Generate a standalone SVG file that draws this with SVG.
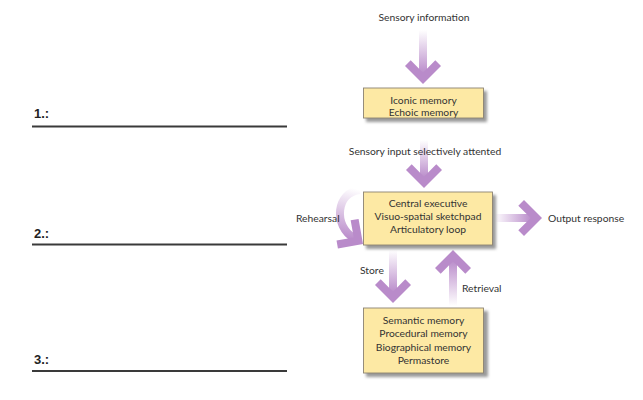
<svg xmlns="http://www.w3.org/2000/svg" width="643" height="400" viewBox="0 0 643 400">
  <defs>
    <style>
      .lbl { font-family: Lato, "Open Sans", "DejaVu Sans", sans-serif; font-size: 10.3px; fill: #333; }
      .box { fill: #fde9a4; stroke: #8c8372; stroke-width: 0.9; }
      .shadow { fill: #9a9a9a; filter: url(#blur); }
      .head { fill: #b98bca; }
      .num { font-family: "Liberation Sans", Arial, sans-serif; font-weight: bold; font-size: 13px; fill: #222; }
      .rule { stroke: #3a3a3a; stroke-width: 2; }
    </style>
    <filter id="blur" x="-10%" y="-20%" width="120%" height="140%">
      <feGaussianBlur stdDeviation="1.6"/>
    </filter>
    <linearGradient id="gDown" x1="0" y1="0" x2="0" y2="1">
      <stop offset="0" stop-color="#b98bca" stop-opacity="0"/>
      <stop offset="1" stop-color="#b98bca" stop-opacity="1"/>
    </linearGradient>
    <linearGradient id="gUp" x1="0" y1="1" x2="0" y2="0">
      <stop offset="0" stop-color="#b98bca" stop-opacity="0"/>
      <stop offset="1" stop-color="#b98bca" stop-opacity="1"/>
    </linearGradient>
    <linearGradient id="gRight" x1="0" y1="0" x2="1" y2="0">
      <stop offset="0" stop-color="#b98bca" stop-opacity="0"/>
      <stop offset="1" stop-color="#b98bca" stop-opacity="1"/>
    </linearGradient>
    <linearGradient id="gArc" gradientUnits="userSpaceOnUse" x1="356" y1="189" x2="344" y2="238">
      <stop offset="0" stop-color="#b98bca" stop-opacity="0"/>
      <stop offset="1" stop-color="#b98bca" stop-opacity="1"/>
    </linearGradient>
    <polygon id="chev" class="head" points="0,0 -18,-18 -12.3,-23.7 0,-11.3 12.3,-23.7 18,-18"/>
  </defs>

  <rect width="643" height="400" fill="#ffffff"/>

  <!-- answer lines -->
  <g id="answers">
    <text class="num" x="34" y="118">1.:</text>
    <line class="rule" x1="32" y1="126.5" x2="287" y2="126.5"/>
    <text class="num" x="34" y="238">2.:</text>
    <line class="rule" x1="32" y1="244.5" x2="287" y2="244.5"/>
    <text class="num" x="34" y="364">3.:</text>
    <line class="rule" x1="32" y1="371" x2="287" y2="371"/>
  </g>

  <!-- connectors -->
  <g id="connectors">
    <g id="c-sensory">
      <rect x="419" y="30" width="8" height="44" fill="url(#gDown)"/>
      <use href="#chev" transform="translate(423,84)"/>
    </g>
    <g id="c-attended">
      <rect x="420" y="140" width="8" height="38" fill="url(#gDown)"/>
      <use href="#chev" transform="translate(424,188)"/>
    </g>
    <g id="c-store">
      <rect x="389" y="250" width="8" height="43" fill="url(#gDown)"/>
      <use href="#chev" transform="translate(393,303)"/>
    </g>
    <g id="c-retrieval">
      <rect x="449" y="260" width="8" height="46" fill="url(#gUp)"/>
      <use href="#chev" transform="translate(453,250) rotate(180)"/>
    </g>
    <g id="c-output">
      <rect x="494" y="214" width="38" height="8" fill="url(#gRight)"/>
      <use href="#chev" transform="translate(542,218) rotate(-90)"/>
    </g>
    <g id="c-rehearsal">
      <path d="M 360 190 C 336 192, 333 226, 354 238" fill="none" stroke="url(#gArc)" stroke-width="8"/>
      <use href="#chev" transform="translate(363,244) rotate(-55)"/>
    </g>
    <text class="lbl" x="424" y="21" text-anchor="middle">Sensory information</text>
    <text class="lbl" x="425" y="155" text-anchor="middle">Sensory input selectively attented</text>
    <text class="lbl" x="296" y="222">Rehearsal</text>
    <text class="lbl" x="548" y="222">Output response</text>
    <text class="lbl" x="360" y="274">Store</text>
    <text class="lbl" x="462" y="292">Retrieval</text>
  </g>

  <!-- nodes -->
  <g id="sensory-store">
    <rect class="shadow" x="366" y="91" width="121" height="31"/>
    <rect class="box" x="363.5" y="88" width="120" height="30"/>
    <text class="lbl" x="423.5" y="104" text-anchor="middle">Iconic memory</text>
    <text class="lbl" x="423.5" y="116" text-anchor="middle">Echoic memory</text>
  </g>

  <g id="working-memory">
    <rect class="shadow" x="366" y="195" width="130" height="54"/>
    <rect class="box" x="363.5" y="192" width="129" height="53"/>
    <text class="lbl" x="428" y="207" text-anchor="middle">Central executive</text>
    <text class="lbl" x="428" y="220" text-anchor="middle">Visuo-spatial sketchpad</text>
    <text class="lbl" x="428" y="233" text-anchor="middle">Articulatory loop</text>
  </g>

  <g id="long-term-memory">
    <rect class="shadow" x="366" y="311" width="122" height="66"/>
    <rect class="box" x="363.5" y="308" width="120" height="65"/>
    <text class="lbl" x="423.5" y="324" text-anchor="middle">Semantic memory</text>
    <text class="lbl" x="423.5" y="337" text-anchor="middle">Procedural memory</text>
    <text class="lbl" x="423.5" y="351" text-anchor="middle">Biographical memory</text>
    <text class="lbl" x="423.5" y="364" text-anchor="middle">Permastore</text>
  </g>
</svg>
